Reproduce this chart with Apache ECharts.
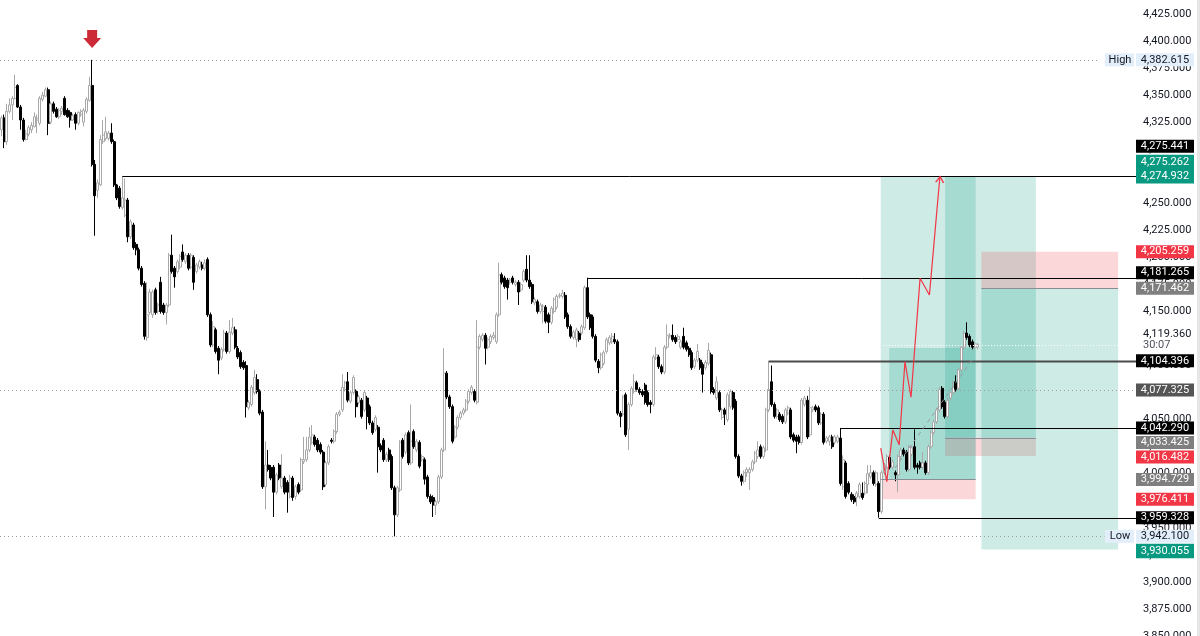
<!DOCTYPE html>
<html lang="en">
<head>
<meta charset="UTF-8">
<title>XAU chart</title>
<script src="https://cdn.jsdelivr.net/npm/echarts@6/dist/echarts.min.js"></script>
<style>
  html, body { margin: 0; padding: 0; background: #ffffff; }
  #chart { width: 1200px; height: 636px; }
</style>
</head>
<body>
<div id="chart"></div>
<script>
// candles, one row per bar: [open, close, low, high]
var candles = [
  [4318,4329,4312,4331],[4329,4307,4301,4332],[4307,4335,4304,4342],[4335,4341,4333,4347],
  [4341,4347,4327,4349],[4347,4357,4346,4369],[4359,4339,4338,4360],[4339,4327,4318,4341],
  [4327,4309,4307,4329],[4309,4314,4308,4318],[4314,4320,4312,4322],[4318,4322,4315,4325],
  [4321,4330,4320,4334],[4327,4329,4315,4332],[4324,4347,4322,4349],[4346,4350,4344,4353],
  [4349,4355,4348,4357],[4355,4324,4313,4357],[4325,4342,4323,4344],[4342,4335,4333,4344],
  [4337,4330,4329,4339],[4330,4336,4328,4338],[4335,4338,4332,4340],[4347,4332,4331,4349],
  [4336,4330,4329,4338],[4334,4327,4320,4336],[4327,4331,4326,4333],[4332,4324,4318,4334],
  [4324,4334,4322,4335],[4332,4335,4330,4337],[4325,4336,4321,4338],[4335,4346,4333,4348],
  [4345,4359,4344,4367],
  [4359,4286,4284,4382.615],
  [4286,4257,4220,4290],[4262,4269,4255,4272],[4267,4309,4266,4313],[4307,4313,4305,4327],
  [4310,4316,4308,4330],[4310,4315,4308,4317],[4315,4307,4305,4324],[4307,4267,4265,4309],
  [4267,4255,4253,4268],[4264,4247,4245,4266],[4246,4255,4244,4275.441],[4239,4253,4237,4273],
  [4253,4219,4214,4255],[4219,4233,4217,4235],[4230,4209,4207,4232],[4212,4207,4202,4214],
  [4207,4190,4188,4209],[4190,4175,4173,4192],[4176,4127,4124,4178],[4126,4147,4123,4177],
  [4149,4168,4147,4171],[4147,4168,4144,4170],[4170,4149,4147,4172],[4150,4156,4148,4158],
  [4177,4150,4148,4182],[4156,4149,4147,4158],[4149,4156,4138,4158],[4156,4202,4154,4204],
  [4202,4187,4185,4221],[4190,4182,4172,4192],[4187,4196,4185,4198],[4191,4201,4189,4203],
  [4205,4198,4196,4212],[4196,4202,4194,4204],[4202,4190,4188,4204],[4191,4202,4189,4204],
  [4200,4177,4170,4202],[4187,4193,4185,4195],[4191,4196,4189,4198],
  [4193,4190,4188,4196],[4190,4195,4188,4198],[4198,4147,4145,4200],[4147,4119,4117,4149],
  [4119,4136,4117,4141],[4133,4113,4111,4135],[4116,4105,4092,4118],[4107,4115,4105,4117],
  [4115,4130,4113,4133],[4130,4113,4111,4132],[4113,4131,4111,4142],[4130,4135,4128,4144],
  [4133,4117,4115,4136],[4116,4108,4106,4118],[4112,4099,4097,4114],[4103,4098,4096,4105],
  [4100,4062,4052,4104],[4061,4066,4059,4068],[4064,4080,4062,4082],[4075,4089,4073,4096],
  [4087,4076,4074,4092],[4076,4056,4054,4078],[4057,3988,3986,4059],[3988,4008,3967,4030],
  [4008,4004,4002,4022],[4006,3996,3994,4008],[4006,3983,3960,4008],[3983,3999,3981,4001],
  [4008,3996,3994,4010],[3988,3996,3986,4018],[3996,3983,3981,3998],[3992,3983,3964,3994],
  [3979,3996,3977,3999],[3996,3978,3975,3998],[3979,3988,3976,3990],[3990,3983,3981,3992],
  [3985,4013,3983,4015],[4011,4013,4009,4034],[4013,4022,4011,4034],[4022,4034,4020,4043],
  [4029,4036,4027,4045],[4034,4027,4025,4036],[4031,4022,4020,4033],[4027,4020,4018,4029],
  [4020,3988,3985,4022],[3990,4010,3988,4012],[4010,4025,4008,4027],[4031,4030,4028,4033],
  [4030,4039,4028,4041],[4039,4055,4037,4057],[4055,4057,4053,4059],[4059,4080,4057,4092],
  [4078,4084,4076,4086],[4085,4068,4066,4094],[4067,4075,4065,4077],[4075,4089,4073,4091],
  [4076,4062,4052,4078],[4066,4071,4064,4073],[4068,4053,4051,4070],[4059,4075,4057,4077],
  [4070,4053,4041,4072],[4062,4047,4045,4064],[4047,4038,4036,4049],[4041,4052,4039,4054],
  [4043,4025,4001,4045],[4026,4022,4020,4028],[4031,4013,4011,4033],[4013,4018,4011,4020],
  [4022,4013,4011,4024],[4016,3987,3985,4018],[3987,3962,3942.1,3989],[3962,3987,3960,3989],
  [3985,4029,3983,4031],[4031,4016,4014,4033],[4020,4036,4018,4038],
  [4038,4010,4008,4040],[4010,4030,4008,4064],[4039,4025,4023,4041],[4022,4030,4020,4032],
  [4029,4007,4005,4031],[4013,4016,4011,4018],[4013,3995,3990,4015],[3997,3979,3977,3999],
  [3979,3974,3972,3981],[3978,3971,3960,3980],[3971,3974,3962,3976],[3974,3997,3972,3999],
  [3997,4022,3995,4024],[4022,4093,4020,4116],[4093,4071,4069,4095],[4071,4062,4060,4073],
  [4062,4030,4028,4064],[4034,4043,4032,4045],[4043,4052,4041,4054],[4052,4056,4050,4058],
  [4056,4059,4054,4061],[4059,4067,4057,4069],[4067,4076,4065,4078],[4075,4080,4073,4082],
  [4076,4068,4066,4078],[4066,4117,4064,4142],[4117,4127,4115,4129],[4124,4128,4122,4130],
  [4128,4116,4101,4130],[4117,4124,4115,4126],[4122,4127,4120,4129],[4126,4128,4124,4131],
  [4122,4147,4120,4149],[4147,4184,4145,4195],[4184,4177,4175,4186],[4181,4173,4171,4183],
  [4179,4172,4161,4181],[4177,4179,4175,4181],[4181,4177,4175,4183],[4175,4177,4173,4179],
  [4177,4168,4156,4179],[4170,4175,4168,4177],[4179,4187,4177,4189],[4189,4179,4177,4202],
  [4179,4173,4171,4202],[4175,4159,4157,4177],[4158,4161,4156,4163],[4159,4150,4148,4161],
  [4150,4156,4148,4158],[4150,4155,4139,4157],[4154,4141,4139,4156],[4147,4140,4130,4149],
  [4140,4153,4138,4155],[4150,4161,4148,4163],[4154,4164,4152,4166],[4164,4165,4162,4167],
  [4164,4167,4162,4170],[4165,4145,4143,4168],[4147,4136,4134,4149],[4136,4127,4125,4138],
  [4126,4131,4124,4133],[4124,4133,4117,4135],[4130,4124,4122,4132],[4130,4136,4128,4138],
  [4135,4172,4133,4174],[4172,4145,4143,4181.265],[4147,4135,4133,4149],[4145,4127,4125,4147],
  [4127,4105,4103,4129],[4104,4098,4093,4106],[4098,4110,4096,4112],[4102,4112,4100,4114],
  [4113,4124,4111,4126],[4121,4126,4119,4128],[4122,4127,4120,4130],[4124,4122,4120,4130],
  [4122,4056,4054,4124],[4056,4053,4043,4058],[4055,4071,4053,4073],[4073,4036,4034,4075],
  [4041,4064,4022,4066],[4064,4079,4062,4081],[4076,4085,4074,4092],[4084,4078,4076,4086],
  [4078,4075,4073,4080],[4076,4073,4071,4078],[4082,4066,4064,4084],[4075,4064,4062,4077],
  [4066,4064,4056,4068],[4064,4108,4062,4110],[4107,4110,4105,4117],[4108,4099,4097,4110],
  [4099,4094,4092,4101],[4094,4117,4092,4119],[4117,4128,4115,4138],[4127,4128,4125,4130],
  [4128,4124,4122,4138],[4126,4122,4120,4128],[4124,4127,4122,4129],[4117,4122,4115,4124],
  [4127,4117,4115,4135],[4121,4115,4113,4123],[4116,4110,4108,4118],[4112,4098,4096,4114],
  [4099,4105,4097,4107],[4105,4113,4103,4120],[4105,4098,4096,4107],[4101,4092,4075,4103],
  [4098,4103,4096,4105],[4102,4114,4100,4121],[4110,4076,4074,4112],[4078,4075,4073,4080],
  [4070,4085,4068,4090],[4075,4059,4057,4077],[4052,4059,4050,4061],[4059,4055,4045,4061],
  [4050,4073,4048,4075],[4062,4076,4060,4078],[4075,4061,4059,4077],[4067,4016,4014,4069],
  [4016,3998,3996,4018],[3998,3993,3989,4000],[3993,4001,3991,4003],[4001,4004,3997,4006],
  [4001,4004,3985,4006],[4004,4011,4002,4013],[4011,4019,4009,4021],[4016,4022,4014,4030],
  [4025,4016,4014,4027],[4016,4024,4014,4026],[4022,4059,4020,4061],[4059,4078,4057,4104.396],
  [4085,4064,4062,4100],[4064,4053,4051,4066],[4053,4059,4051,4061],[4055,4050,4048,4057],
  [4053,4048,4046,4055],[4048,4059,4046,4061],[4056,4061,4054,4063],[4059,4034,4032,4061],
  [4036,4031,4029,4038],[4034,4030,4019,4036],[4034,4029,4027,4036],[4029,4068,4027,4070],
  [4064,4070,4062,4072],
  [4068,4034,4032,4072],[4036,4061,4034,4080],[4059,4061,4057,4063],[4062,4059,4057,4064],
  [4061,4047,4045,4063],[4047,4055,4045,4057],[4055,4029,4027,4057],[4030,4033,4028,4035],
  [4030,4034,4026,4036],[4034,4025,4023,4036],[4029,4034,4027,4036],[4030,4034,4028,4036],
  [4033,3991,3989,4042.29],[3988,4013,3985,4017],[4010,3979,3977,4012],[3991,3983,3981,3993],
  [3981,3976,3974,3983],[3979,3974,3972,3981],[3978,3982,3970,3984],[3979,3990,3977,3992],
  [3982,3978,3976,3992],[3982,3991,3980,3993],[3990,4000,3982,4008],[3997,4001,3995,4008],
  [4001,3991,3989,4003],[3990,4001,3988,4003],[3991,3965,3959.328,3993],[3965,4001,3963,4003],
  [4001,4008,3999,4010],[4006,4016,4004,4018],[4015,4006,4004,4017],[4006,4011,4004,4013],
  [4001,3999,3993,4003],[3999,4016,3983,4018],[4016,4022,4014,4024],[4022,4018,4016,4024],
  [4020,4004,4002,4022],[4004,4025,4002,4027],[4018,4024,4016,4026],[4025,4006,4004,4041],
  [4008,4006,4000,4010],[4010,4006,4004,4012],[4006,4010,4004,4020],[4010,4001,3999,4012],
  [4001,4025,3999,4027],[4025,4038,4023,4040],[4038,4048,4036,4050],[4048,4059,4046,4061],
  [4059,4078,4057,4080],[4079,4062,4060,4081],[4066,4053,4051,4068],[4053,4068,4051,4070],
  [4070,4075,4068,4077],[4075,4080,4073,4086],[4085,4078,4076,4091],[4079,4096,4077,4098],
  [4096,4117,4094,4119],[4117,4130,4115,4132],[4130,4126,4124,4140],[4127,4119,4117,4129],
  [4122,4117,4115,4124],[4117,4120,4115,4122],[4117,4119.36,4115,4121]
];

// horizontal rays: bar they start on and price
var rayBar = [44, 213, 279, 305, 319];
var rayPrice = [4275.441, 4181.265, 4104.396, 4042.290, 3959.328];
var rayHeavy = [0, 0, 1, 0, 0];

var highPrice = 4382.615;
var lowPrice = 3942.100;
var markPrice = 4077.325;
var lastPrice = 4119.360;
var countdown = '30:07';

// position tools, in bar units
var posFrom = [320.2, 343.6, 356.8];
var posTo = [354.7, 376.6, 406.5];
var posEntry = [3994.729, 4033.425, 4171.462];
var posStop = [3976.411, 4016.482, 4205.259];
var posTarget = [4275.262, 4274.932, 3930.055];

// plain rectangle
var rectBars = [323.3, 354.7];
var rectPrices = [4116.3, 3994.729];

// red projection path and dashed trend line
var pathBars = [320.2, 322.4, 324.6, 326.9, 329.0, 331.2, 334.5, 337.9, 341.7];
var pathPrices = [4023.6, 3992.7, 4040.5, 4026.7, 4103.6, 4070.7, 4180.7, 4165.3, 4274.6];
var trendBars = [325.4, 353.4];
var trendPrices = [4005.4, 4105.2];

// arrow mark above the top bar
var arrowBar = 33;
var arrowPrice = 4401.9;

// price scale
var yMin = 3850, yMax = 4437.94, yStep = 25;

var SLOTS = 413;
var cats = [];
for (var i = 0; i < SLOTS; i++) cats.push(String(i));

function fmt(v) {
    return v.toLocaleString('en-US', { minimumFractionDigits: 3, maximumFractionDigits: 3 });
}

// zones from the position tools
var zoneFill = ['rgba(8,153,129,0.2)', 'rgba(242,54,69,0.2)'];
var zones = [];
for (var k = 0; k < posFrom.length; k++) {
    zones.push([posFrom[k], posTo[k], Math.max(posEntry[k], posTarget[k]), Math.min(posEntry[k], posTarget[k]), 0]);
    zones.push([posFrom[k], posTo[k], Math.max(posEntry[k], posStop[k]), Math.min(posEntry[k], posStop[k]), 1]);
}
zones.push([rectBars[0], rectBars[1], rectPrices[0], rectPrices[1], 0]);

// horizontal lines: [fromBar, toBar, price, kind]
var lineKinds = [
    { stroke: '#000000', lineWidth: 1 },
    { stroke: '#4a4a4a', lineWidth: 2 },
    { stroke: '#9b9b9b', lineWidth: 1, lineDash: [1, 3] },
    { stroke: '#8a8d96', lineWidth: 1 },
    { stroke: '#ffffff', lineWidth: 1, lineDash: [1, 2] }
];
var hlines = [];
rayBar.forEach(function (b, k) {
    hlines.push([b + 0.5, SLOTS, rayPrice[k], rayHeavy[k] ? 1 : 0]);
});
hlines.push([0, 399.9, highPrice, 2]);
hlines.push([0, 401.5, lowPrice, 2]);
hlines.push([0, SLOTS, markPrice, 2]);
hlines.push([321, SLOTS, lastPrice, 4]);
for (var k = 0; k < posFrom.length; k++) {
    hlines.push([posFrom[k], posTo[k], posEntry[k], 3]);
}

var pathData = pathBars.map(function (b, i) { return [b, pathPrices[i]]; });
var tip = pathData.pop();
pathData.push({
    value: tip,
    symbol: 'path://M0,8 L5,0 L10,8',
    symbolSize: [8, 6],
    symbolOffset: [0, 3],
    symbolRotate: -5,
    itemStyle: { color: 'rgba(0,0,0,0)', borderColor: '#f23645', borderWidth: 1.2 }
});

var chart = echarts.init(document.getElementById('chart'));

var option = {
    animation: false,
    backgroundColor: '#ffffff',
    grid: { left: 0, right: 64, top: 0, bottom: 0, outerBoundsMode: 'none', containLabel: false },
    xAxis: [
        { type: 'category', data: cats, boundaryGap: true, show: false },
        { type: 'value', min: 0, max: SLOTS, show: false }
    ],
    yAxis: {
        type: 'value',
        position: 'right',
        min: yMin,
        max: yMax,
        interval: yStep,
        axisLine: { show: false },
        axisTick: { show: false },
        splitLine: { show: false },
        axisLabel: {
            showMaxLabel: false,
            margin: 7,
            color: '#131722',
            fontSize: 11,
            fontFamily: 'Roboto, sans-serif',
            formatter: function (v) { return fmt(v); }
        }
    },
    series: [
        {
            type: 'custom',
            xAxisIndex: 1,
            z: 1,
            silent: true,
            data: zones,
            encode: { x: [0, 1], y: [2, 3] },
            renderItem: function (params, api) {
                var a = api.coord([api.value(0), api.value(2)]);
                var b = api.coord([api.value(1), api.value(3)]);
                return {
                    type: 'rect',
                    shape: { x: a[0], y: a[1], width: b[0] - a[0], height: b[1] - a[1] },
                    style: { fill: zoneFill[api.value(4)] }
                };
            }
        },
        {
            type: 'candlestick',
            xAxisIndex: 0,
            z: 3,
            data: candles,
            barWidth: 2.5,
            itemStyle: {
                color: '#ffffff',
                color0: '#000000',
                borderColor: '#a8a8a8',
                borderColor0: '#000000',
                borderWidth: 1
            }
        },
        {
            type: 'custom',
            xAxisIndex: 1,
            z: 4,
            silent: true,
            data: hlines,
            encode: { x: [0, 1], y: 2 },
            renderItem: function (params, api) {
                var a = api.coord([api.value(0), api.value(2)]);
                var b = api.coord([api.value(1), api.value(2)]);
                var y = Math.round(a[1]) + 0.5;
                return {
                    type: 'line',
                    shape: { x1: a[0], y1: y, x2: b[0], y2: y },
                    style: lineKinds[api.value(3)]
                };
            }
        },
        {
            type: 'line',
            xAxisIndex: 1,
            z: 5,
            silent: true,
            symbol: 'none',
            data: trendBars.map(function (b, i) { return [b, trendPrices[i]]; }),
            lineStyle: { color: '#9598a1', width: 1, type: [4, 4] }
        },
        {
            type: 'line',
            xAxisIndex: 1,
            z: 6,
            silent: true,
            symbol: 'none',
            showSymbol: true,
            data: pathData,
            lineStyle: { color: '#f23645', width: 1.2 }
        },
        {
            type: 'scatter',
            xAxisIndex: 0,
            z: 6,
            silent: true,
            data: [[arrowBar, arrowPrice]],
            symbol: 'path://M4,0 L14,0 L14,8 L18,8 L9,18 L0,8 L4,8 Z',
            symbolSize: [18, 18],
            itemStyle: { color: '#cc2a37', opacity: 1 }
        }
    ]
};
chart.setOption(option);

// price scale tags
var tags = [];
function addTag(price, bg, fg, h) { tags.push({ p: price, bg: bg, fg: fg, h: h }); }
addTag(highPrice, '#e3eefb', '#131722', 13);
addTag(lowPrice, '#e3eefb', '#131722', 13);
addTag(markPrice, '#555555', '#ffffff', 13);
rayPrice.forEach(function (p) { addTag(p, '#000000', '#ffffff', 13); });
posEntry.forEach(function (p) { addTag(p, '#7f7f7f', '#ffffff', 13); });
posStop.forEach(function (p) { addTag(p, '#f23645', '#ffffff', 13); });
posTarget.forEach(function (p) { addTag(p, '#089981', '#ffffff', 14.5); });

// shifts so overlapping tags do not cover each other
var tagShift = { '4275.441': -29.5, '4275.262': -14, '4181.265': -5, '4033.425': 5, '4016.482': 1, '3930.055': 1.5 };

var g = [];
tags.forEach(function (t) {
    var y = chart.convertToPixel({ yAxisIndex: 0 }, t.p) + (tagShift[t.p.toFixed(3)] || 0);
    g.push({ type: 'rect', z: 100, silent: true,
        shape: { x: 1136, y: y - t.h / 2, width: 58, height: t.h }, style: { fill: t.bg } });
    g.push({ type: 'text', z: 101, silent: true, x: 1165, y: y,
        style: { text: fmt(t.p), fill: t.fg, font: '11px Roboto, sans-serif',
            align: 'center', verticalAlign: 'middle', textAlign: 'center', textVerticalAlign: 'middle' } });
});

// High / Low captions
[[highPrice, 'High'], [lowPrice, 'Low']].forEach(function (h) {
    var y = chart.convertToPixel({ yAxisIndex: 0 }, h[0]);
    g.push({ type: 'rect', z: 100, silent: true,
        shape: { x: 1105, y: y - 6.5, width: 29, height: 13 }, style: { fill: '#e3eefb' } });
    g.push({ type: 'text', z: 101, silent: true, x: 1120, y: y,
        style: { text: h[1], fill: '#131722', font: '11px Roboto, sans-serif',
            align: 'center', verticalAlign: 'middle', textAlign: 'center', textVerticalAlign: 'middle' } });
});

// last price with countdown
var ly = chart.convertToPixel({ yAxisIndex: 0 }, lastPrice);
g.push({ type: 'rect', z: 100, silent: true,
    shape: { x: 1136, y: ly - 17, width: 60, height: 24 }, style: { fill: '#ffffff' } });
g.push({ type: 'text', z: 101, silent: true, x: 1143, y: ly - 10,
    style: { text: fmt(lastPrice), fill: '#131722', font: '11px Roboto, sans-serif',
        align: 'left', verticalAlign: 'middle', textAlign: 'left', textVerticalAlign: 'middle' } });
g.push({ type: 'text', z: 101, silent: true, x: 1143, y: ly + 1,
    style: { text: countdown, fill: '#50535e', font: '11px Roboto, sans-serif',
        align: 'left', verticalAlign: 'middle', textAlign: 'left', textVerticalAlign: 'middle' } });

// scrollbar edge
g.push({ type: 'rect', z: 100, silent: true,
    shape: { x: 1197, y: 0, width: 3, height: 636 }, style: { fill: '#e6e6e6' } });

chart.setOption({ graphic: g });
</script>
</body>
</html>
